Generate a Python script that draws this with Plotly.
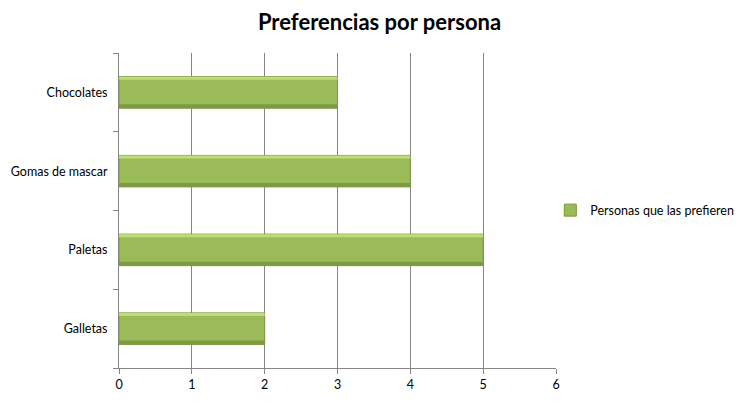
import plotly.graph_objects as go

categories = ["Galletas", "Paletas", "Gomas de mascar", "Chocolates"]
values = [2, 5, 4, 3]
series_name = "Personas que las prefieren"
x_ticks = [0, 1, 2, 3, 4, 5, 6]

FONT = "Lato, 'Open Sans', sans-serif"
fig = go.Figure()

# main bar
fig.add_trace(go.Bar(
    y=categories, x=values, orientation="h", name=series_name,
    width=0.4, marker=dict(color="#9bbb59", line=dict(color="#7a9a3c", width=1)),
    showlegend=True,
))
# darker bottom edge (bevel)
fig.add_trace(go.Bar(
    y=categories, x=values, orientation="h", name="shade",
    width=0.05, offset=-0.2, marker=dict(color="#7d9b40", line=dict(width=0)),
    showlegend=False, hoverinfo="skip",
))
# lighter top highlight (bevel)
fig.add_trace(go.Bar(
    y=categories, x=values, orientation="h", name="hl",
    width=0.04, offset=0.16, marker=dict(color="#bfdc7a", line=dict(width=0)),
    showlegend=False, hoverinfo="skip",
))
# dummy trace for boundary ticks axis
fig.add_trace(go.Scatter(x=[None], y=[None], yaxis="y2", showlegend=False, hoverinfo="skip"))

fig.update_layout(
    width=743, height=395,
    margin=dict(l=111, r=190, t=45, b=35),
    paper_bgcolor="white", plot_bgcolor="white",
    barmode="overlay",
    font=dict(family=FONT, size=12.5, color="#000000"),
    title=dict(text="<b>Preferencias por persona</b>", x=0.5, xanchor="center",
               y=0.965, yanchor="middle", font=dict(family=FONT, size=22, color="#000")),
    xaxis=dict(range=[0, 6], tickvals=x_ticks, showgrid=True, gridcolor="#868686", gridwidth=1,
               showline=True, linecolor="#868686", linewidth=1, ticks="outside", ticklen=5,
               tickcolor="#868686", zeroline=False, tickfont=dict(size=12.5), automargin=False),
    yaxis=dict(type="category", categoryorder="array", categoryarray=categories,
               range=[-0.5, 3.5], showline=True, linecolor="#868686", linewidth=1,
               ticks="", showgrid=False, ticklabelstandoff=8, tickfont=dict(size=12.5),
               automargin=False),
    yaxis2=dict(overlaying="y", range=[-0.5, 3.5], tickvals=[-0.5, 0.5, 1.5, 2.5, 3.5],
                showticklabels=False, ticks="outside", ticklen=5, tickcolor="#868686",
                showgrid=False, zeroline=False, side="left", showline=False, automargin=False),
    legend=dict(x=0.987, y=0.5, xanchor="left", yanchor="middle", font=dict(size=12.5),
                bgcolor="rgba(0,0,0,0)", itemwidth=30),
)

fig.write_html("out.html")
